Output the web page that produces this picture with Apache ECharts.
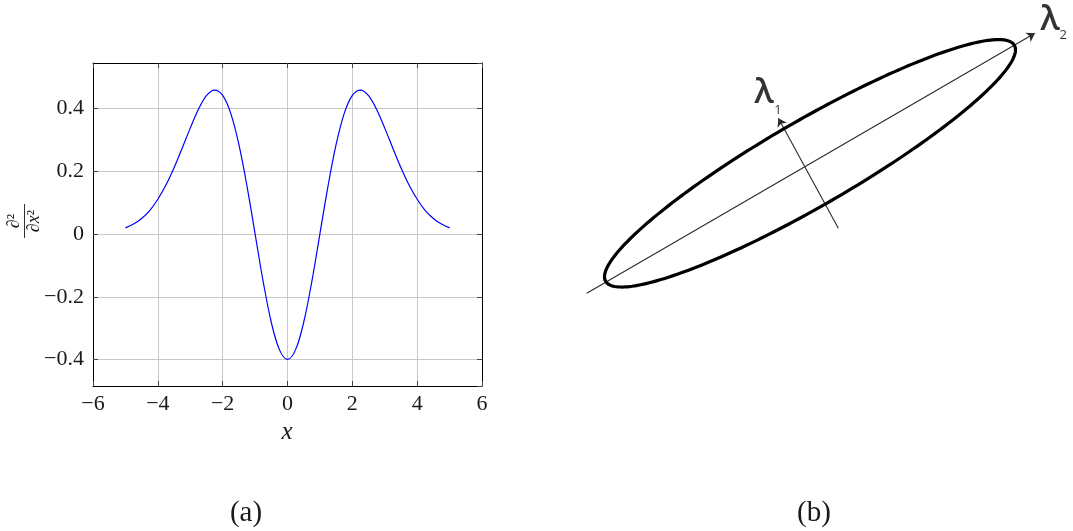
<!DOCTYPE html>
<html>
<head>
<meta charset="utf-8">
<script src="https://cdn.jsdelivr.net/npm/echarts@6/dist/echarts.min.js"></script>
<style>
  html, body { margin: 0; padding: 0; background: #fff; }
  #chart { width: 1073px; height: 531px; }
</style>
</head>
<body>
<div id="chart"></div>
<script>
// (a) second-derivative curve samples
const xValues = [-5, -4.75, -4.5, -4.25, -4, -3.75, -3.5, -3.25, -3, -2.75, -2.5, -2.25, -2, -1.75, -1.5, -1.25, -1, -0.75, -0.5, -0.25,
  0, 0.25, 0.5, 0.75, 1, 1.25, 1.5, 1.75, 2, 2.25, 2.5, 2.75, 3, 3.25, 3.5, 3.75, 4, 4.25, 4.5, 4.75, 5];
const yValues = [0.019, 0.031, 0.049, 0.074, 0.110, 0.155, 0.210, 0.272, 0.336, 0.395, 0.439, 0.457, 0.440, 0.383, 0.284, 0.152, 0, -0.152, -0.281, -0.368,
  -0.399, -0.368, -0.281, -0.152, 0, 0.152, 0.284, 0.383, 0.440, 0.457, 0.439, 0.395, 0.336, 0.272, 0.210, 0.155, 0.110, 0.074, 0.049, 0.031, 0.019];
const xTicks = [-6, -4, -2, 0, 2, 4, 6];
const yTicks = [-0.4, -0.2, 0, 0.2, 0.4];

// (b) ellipse diagram: [centerX, centerY, semiMajor, semiMinor, angleDeg]
const ellipseShape = [0, 0, 1, 0.182, 30];
const majorAxis = [[-0.946, -0.551], [0.953, 0.551]];
const minorAxis = [[0.120, -0.275], [-0.134, 0.191]];
const axisLabels = [
  { text: 'λ', at: [-0.195, 0.296], size: 34, weight: 600 },
  { text: '1', at: [-0.136, 0.224], size: 13, weight: 'normal' },
  { text: 'λ', at: [1.017, 0.607], size: 34, weight: 600 },
  { text: '2', at: [1.073, 0.542], size: 13, weight: 'normal' }
];

const serif = '"Liberation Serif", "DejaVu Serif", serif';
const textColor = '#1a1a1a';
const fmt = v => {
  const r = Math.round(v * 10) / 10;
  if (Math.abs(v / 0.2 - Math.round(v / 0.2)) > 1e-6) return '';
  return String(r).replace('-', '\u2212');
};

const chart = echarts.init(document.getElementById('chart'), null, { renderer: 'canvas' });

const frameAxisLine = { show: true, onZero: false, lineStyle: { color: '#000', width: 1 } };
const tickStyle = { show: true, inside: true, length: 5, lineStyle: { color: '#444', width: 1 } };
const splitStyle = { show: true, showMinLine: false, showMaxLine: false, lineStyle: { color: '#c8c8c8', width: 1 } };

chart.setOption({
  animation: false,
  grid: [
    { left: 93, top: 63, width: 389, height: 323 },
    { left: 560, top: 0, width: 513, height: 340 }
  ],
  xAxis: [
    {
      type: 'value', gridIndex: 0, min: xTicks[0], max: xTicks[xTicks.length - 1], interval: 2,
      axisLine: frameAxisLine, axisTick: tickStyle, splitLine: splitStyle,
      axisLabel: { margin: 7, color: textColor, fontFamily: serif, fontSize: 22, formatter: v => String(v).replace('-', '\u2212') }
    },
    {
      type: 'value', gridIndex: 0, position: 'top', min: xTicks[0], max: xTicks[xTicks.length - 1], interval: 2,
      axisLine: frameAxisLine, axisTick: tickStyle, splitLine: { show: false }, axisLabel: { show: false }
    },
    {
      type: 'value', gridIndex: 1, min: -1.0593, max: 1.1144, show: false
    }
  ],
  yAxis: [
    {
      type: 'value', gridIndex: 0, min: -0.4836, max: 0.543,
      axisLine: frameAxisLine, axisTick: tickStyle, splitLine: splitStyle,
      axisLabel: { margin: 9, showMinLabel: false, showMaxLabel: false, color: textColor, fontFamily: serif, fontSize: 22, formatter: fmt }
    },
    {
      type: 'value', gridIndex: 0, position: 'right', min: -0.4836, max: 0.543,
      axisLine: frameAxisLine, axisTick: tickStyle, splitLine: { show: false }, axisLabel: { show: false }
    },
    {
      type: 'value', gridIndex: 1, min: -0.7487, max: 0.692, show: false
    }
  ],
  series: [
    {
      type: 'line', xAxisIndex: 0, yAxisIndex: 0,
      data: xValues.map((x, i) => [x, yValues[i]]),
      smooth: 0.35, showSymbol: false,
      lineStyle: { color: '#0000ff', width: 1.2 }
    },
    {
      type: 'custom', xAxisIndex: 2, yAxisIndex: 2,
      data: [ellipseShape],
      renderItem: function (params, api) {
        const cx = api.value(0), cy = api.value(1), a = api.value(2), b = api.value(3);
        const ang = api.value(4) * Math.PI / 180;
        const pts = [];
        for (let k = 0; k < 240; k++) {
          const t = (k / 240) * Math.PI * 2;
          const lx = a * Math.cos(t), ly = b * Math.sin(t);
          pts.push(api.coord([cx + lx * Math.cos(ang) - ly * Math.sin(ang), cy + lx * Math.sin(ang) + ly * Math.cos(ang)]));
        }
        return {
          type: 'polygon',
          shape: { points: pts },
          style: { fill: 'none', stroke: '#000', lineWidth: 3.2 }
        };
      },
      z: 3
    },
    {
      type: 'lines', coordinateSystem: 'cartesian2d', xAxisIndex: 2, yAxisIndex: 2,
      data: [{ coords: majorAxis }, { coords: minorAxis }],
      symbol: ['none', 'arrow'], symbolSize: [0, 8],
      lineStyle: { color: '#2a2a2a', width: 1.1, opacity: 1 },
      z: 2
    },
    {
      type: 'scatter', xAxisIndex: 2, yAxisIndex: 2,
      symbolSize: 0,
      data: axisLabels.map(l => ({
        value: l.at,
        label: {
          show: true, position: 'inside', formatter: l.text,
          fontFamily: '"Open Sans", sans-serif', fontSize: l.size, fontWeight: l.weight, color: '#000'
        }
      }))
    }
  ],
  graphic: [
    {
      type: 'group', x: 24.5, y: 221, rotation: Math.PI / 2,
      children: [
        { type: 'text', x: 0, y: -1, style: { text: '∂²', font: '18px ' + serif, fill: textColor, align: 'center', verticalAlign: 'bottom', textAlign: 'center', textVerticalAlign: 'bottom' } },
        { type: 'line', shape: { x1: -17, y1: 0, x2: 17, y2: 0 }, style: { stroke: textColor, lineWidth: 0.9 } },
        { type: 'text', x: 0, y: 1, style: { text: '∂{i|x}²', font: '18px ' + serif, fill: textColor, align: 'center', verticalAlign: 'top', textAlign: 'center', textVerticalAlign: 'top',
          rich: { i: { fontStyle: 'italic', fontFamily: serif, fontSize: 18, fill: textColor } } } }
      ]
    },
    { type: 'text', x: 287, y: 432, style: { text: 'x', font: 'italic 25px ' + serif, fill: textColor, align: 'center', verticalAlign: 'middle', textAlign: 'center', textVerticalAlign: 'middle' } },
    { type: 'text', x: 246, y: 513, style: { text: '(a)', font: '29px ' + serif, fill: textColor, align: 'center', verticalAlign: 'middle', textAlign: 'center', textVerticalAlign: 'middle' } },
    { type: 'text', x: 814, y: 513, style: { text: '(b)', font: '29px ' + serif, fill: textColor, align: 'center', verticalAlign: 'middle', textAlign: 'center', textVerticalAlign: 'middle' } }
  ]
});
</script>
</body>
</html>
